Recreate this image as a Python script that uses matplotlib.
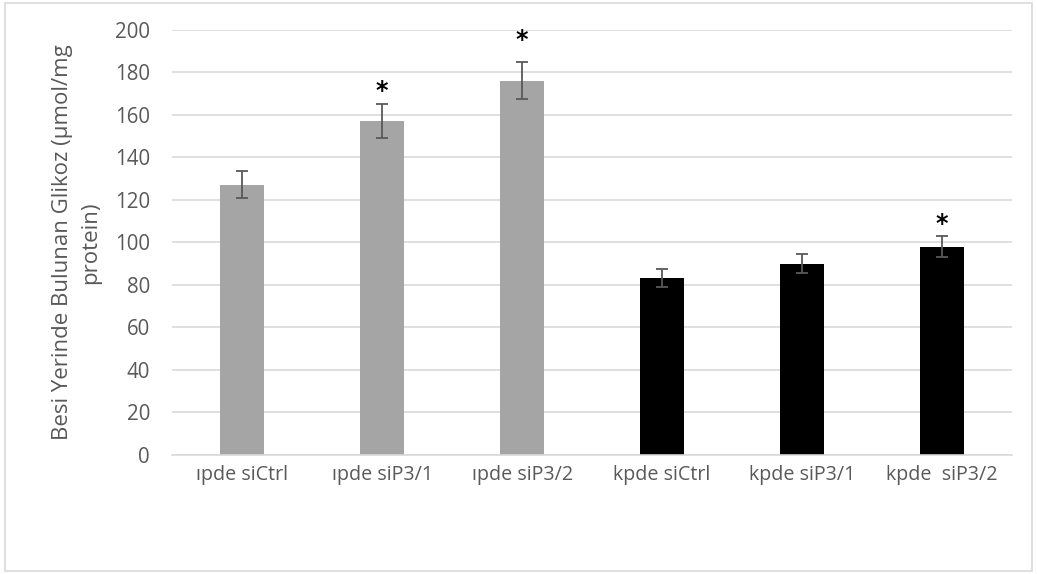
import matplotlib

matplotlib.use("Agg")

import matplotlib.pyplot as plt
from matplotlib.patches import Rectangle


categories = [
    "ıpde siCtrl",
    "ıpde siP3/1",
    "ıpde siP3/2",
    "kpde siCtrl",
    "kpde siP3/1",
    "kpde  siP3/2",
]
glucose_means = [127, 157, 176, 83, 90, 98]
glucose_errors = [6.4, 7.8, 8.7, 4.2, 4.5, 5.0]
# height (data units) of the significance asterisk, None where not significant
star_levels = [None, 171, 195, None, None, 108.5]
y_ticks = [0, 20, 40, 60, 80, 100, 120, 140, 160, 180, 200]
y_label = "Besi Yerinde Bulunan Glikoz (µmol/mg\nprotein)"

GRAY_BAR = "#a5a5a5"
BLACK_BAR = "#000000"
TEXT_GRAY = "#595959"
GRID_GRAY = "#d9d9d9"

plt.rcParams["font.family"] = ["Open Sans", "DejaVu Sans"]

fig = plt.figure(figsize=(10.37, 5.74), dpi=100)
ax = fig.add_axes([0.166, 0.2073, 0.810, 0.7413])

positions = list(range(len(categories)))
colors = [GRAY_BAR] * 3 + [BLACK_BAR] * 3

ax.bar(
    positions,
    glucose_means,
    width=0.314,
    color=colors,
    zorder=2,
)
ax.errorbar(
    positions,
    glucose_means,
    yerr=glucose_errors,
    fmt="none",
    ecolor=TEXT_GRAY,
    elinewidth=1.3,
    capsize=4.4,
    capthick=1.3,
    zorder=3,
)

for pos, level in zip(positions, star_levels):
    if level is not None:
        ax.text(
            pos,
            level,
            "*",
            ha="center",
            va="center",
            fontsize=17,
            fontweight="bold",
            color="black",
            family="DejaVu Sans",
        )

ax.set_xlim(-0.5, len(categories) - 0.5)
ax.set_ylim(0, 200)
ax.set_yticks(y_ticks)
ax.set_xticks(positions)
ax.set_xticklabels(categories, fontsize=14.2, color=TEXT_GRAY)
ax.tick_params(axis="y", labelsize=14.8, labelcolor=TEXT_GRAY, length=0, pad=16)
ax.tick_params(axis="x", length=0, pad=7)

ax.yaxis.grid(True, color=GRID_GRAY, linewidth=1.2, zorder=0)
ax.set_axisbelow(True)
for side in ("top", "right", "left"):
    ax.spines[side].set_visible(False)
ax.spines["bottom"].set_color(GRID_GRAY)
ax.spines["bottom"].set_linewidth(1.2)

ax.set_ylabel(y_label, fontsize=16, color=TEXT_GRAY, labelpad=10, linespacing=1.45)

fig.patches.append(
    Rectangle(
        (0.005, 0.005),
        0.99,
        0.99,
        transform=fig.transFigure,
        fill=False,
        edgecolor=GRID_GRAY,
        linewidth=1.2,
    )
)

fig.savefig("out.png", dpi=100)
plt.close(fig)
